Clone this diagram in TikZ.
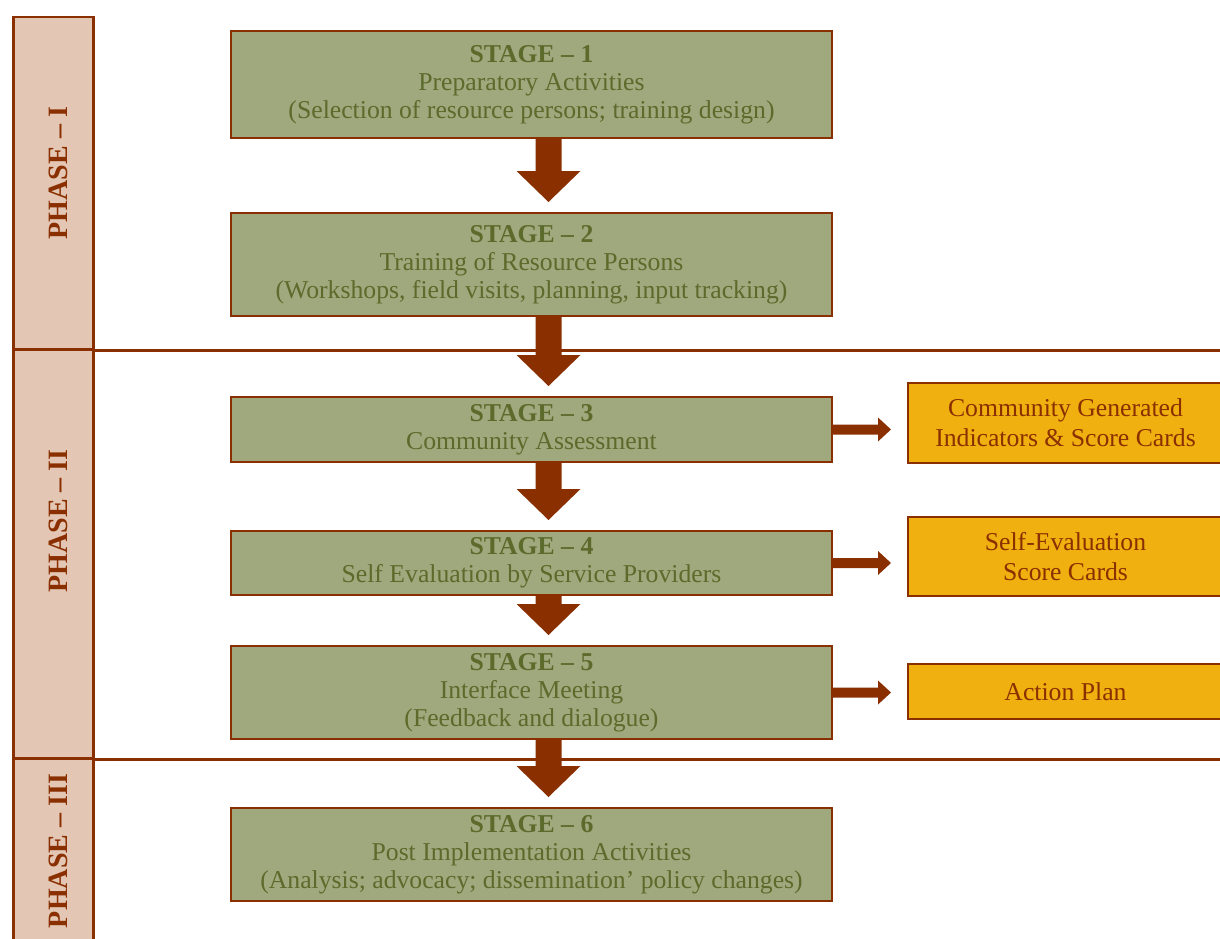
\documentclass[tikz,border=0pt]{standalone}
\usepackage{fontspec}
\setmainfont{Liberation Serif}
\usetikzlibrary{calc}
\definecolor{brn}{HTML}{8A3000}
\definecolor{phasefill}{HTML}{E3C6B4}
\definecolor{stagefill}{HTML}{A0A87D}
\definecolor{stagetext}{HTML}{5C6A2B}
\definecolor{outfill}{HTML}{F0B010}
\tikzset{
  phasebox/.style={draw=brn, line width=2.5pt, fill=phasefill, anchor=north west, minimum width=80pt, inner sep=0pt},
  phaselabel/.style={rotate=90, text=brn, inner sep=0pt, font=\fontsize{28}{30}\selectfont\bfseries},
  stagebox/.style={draw=brn, line width=2pt, fill=stagefill, text=stagetext, align=center, anchor=north west, minimum width=601pt, inner sep=0pt, font=\fontsize{25.7}{28}\selectfont},
  outbox/.style={draw=brn, line width=2pt, fill=outfill, text=brn, align=center, anchor=north west, minimum width=315pt, inner sep=0pt, font=\fontsize{25.7}{30}\selectfont},
  sepline/.style={draw=brn, line width=2.2pt}
}
% down arrow: centre of the arrow lies 17pt right of the box centre, as in the reference
\newcommand\dnarrow[2]{\fill[brn] let \p1=(#1.south), \p2=(#2.north) in
  (\x1+4pt,\y1) -- (\x1+4pt,\y2+41pt) -- (\x1-15pt,\y2+41pt) -- (\x1+17pt,\y2+10pt) --
  (\x1+49pt,\y2+41pt) -- (\x1+30pt,\y2+41pt) -- (\x1+30pt,\y1) -- cycle;}
\newcommand\rtarrow[2]{\fill[brn] let \p1=(#1.east), \p2=(#2.west) in
  (\x1,\y1+5pt) -- (\x2-29pt,\y1+5pt) -- (\x2-29pt,\y1+12pt) -- (\x2-16pt,\y1) --
  (\x2-29pt,\y1-12pt) -- (\x2-29pt,\y1-5pt) -- (\x1,\y1-5pt) -- cycle;}
\begin{document}
\begin{tikzpicture}[x=1pt,y=-1pt]
\useasboundingbox (0,0) rectangle (1220,939);
\clip (0,0) rectangle (1220,939);
\fill[white] (0,0) rectangle (1220,939);
\coordinate (R) at (1220,0);
% phase column
\node[phasebox, minimum height=332pt] (p1) at (12,16) {};
\node[phasebox, minimum height=409pt] (p2) at (12,348) {};
\node[phasebox, minimum height=220pt] (p3) at (12,757) {};
\draw[sepline] (p1.south east) -- (p1.south east -| R);
\draw[sepline] (p2.south east) -- (p2.south east -| R);
\node[phaselabel] (l1) at (58,173) {PHASE – I};
\node[phaselabel] (l2) at (58,521) {PHASE – II};
\node[phaselabel] (l3) at (58,851) {PHASE – III};
% stages
\node[stagebox, minimum height=107pt] (s1) at (230,30) {\textbf{STAGE – 1}\\Preparatory Activities\\(Selection of resource persons; training design)};
\node[stagebox, minimum height=103pt] (s2) at (230,212) {\textbf{STAGE – 2}\\Training of Resource Persons\\(Workshops, field visits, planning, input tracking)};
\node[stagebox, minimum height=65pt] (s3) at (230,396) {\textbf{STAGE – 3}\\Community Assessment};
\node[stagebox, minimum height=64pt] (s4) at (230,530) {\textbf{STAGE – 4}\\Self Evaluation by Service Providers};
\node[stagebox, minimum height=93pt] (s5) at (230,645) {\textbf{STAGE – 5}\\Interface Meeting\\(Feedback and dialogue)};
\node[stagebox, minimum height=93pt] (s6) at (230,807) {\textbf{STAGE – 6}\\Post Implementation Activities\\(Analysis; advocacy; dissemination’ policy changes)};
% outputs
\node[outbox, minimum height=80pt] (o1) at (907,382) {Community Generated\\Indicators \& Score Cards};
\node[outbox, minimum height=79pt] (o2) at (907,516) {Self-Evaluation\\Score Cards};
\node[outbox, minimum height=55pt] (o3) at (907,663) {Action Plan};
% arrows
\dnarrow{s1}{s2}
\dnarrow{s2}{s3}
\dnarrow{s3}{s4}
\dnarrow{s4}{s5}
\dnarrow{s5}{s6}
\rtarrow{s3}{o1}
\rtarrow{s4}{o2}
\rtarrow{s5}{o3}
\end{tikzpicture}
\end{document}
